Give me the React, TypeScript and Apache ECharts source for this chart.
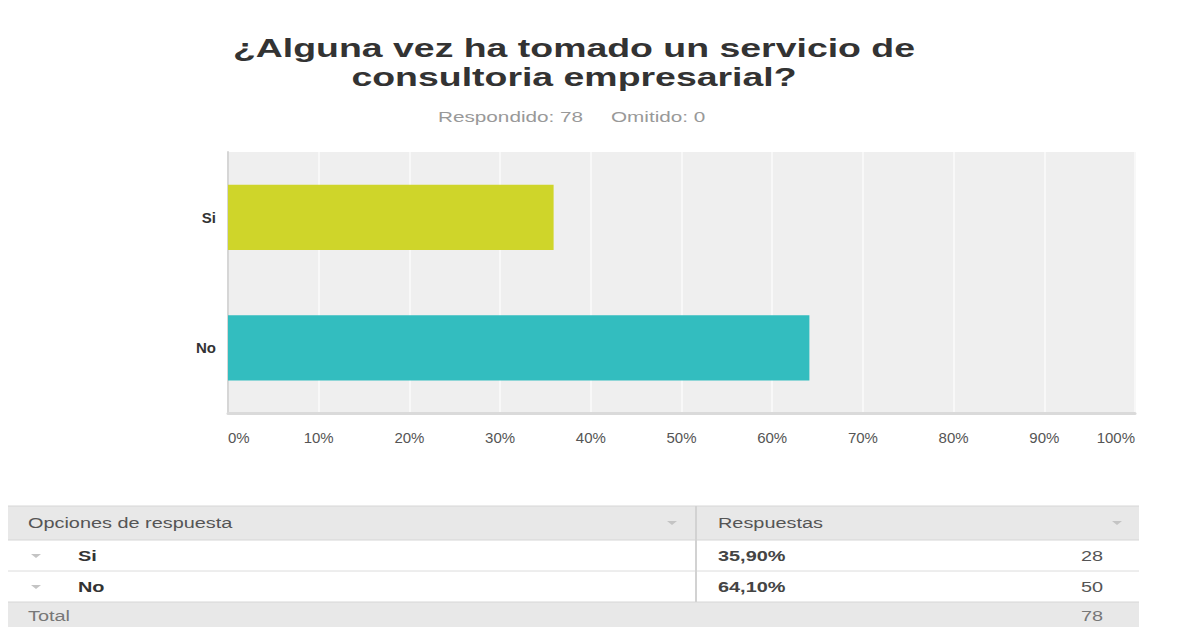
import React, { useEffect, useRef } from "react";
import * as echarts from "echarts";

const titleLines = ["¿Alguna vez ha tomado un servicio de", "consultoria empresarial?"];
const answered = 78;
const skipped = 0;
const categories = ["Si", "No"];
const percents = [35.9, 64.1];
const counts = [28, 50];
const total = 78;
const barColors = ["#cfd52a", "#33bdbf"];
const axisMin = 0;
const axisMax = 100;
const axisInterval = 10;

const FONT = "'Liberation Sans', Arial, sans-serif";
const SX = 1.42;

function fmtPct(v: number) {
  return v.toFixed(2).replace(".", ",") + "%";
}

function txt(text: string, x: number, y: number, opts: any = {}) {
  return {
    type: "text",
    x,
    y,
    scaleX: opts.scaleX ?? SX,
    style: {
      text,
      fontFamily: FONT,
      fontSize: opts.fontSize ?? 14,
      fontWeight: opts.fontWeight ?? "normal",
      fill: opts.fill ?? "#555",
      align: opts.align ?? "left",
      verticalAlign: "middle",
    },
  };
}

function tri(cx: number, cy: number) {
  return {
    type: "polygon",
    shape: { points: [[cx - 5, cy - 2], [cx + 5, cy - 2], [cx, cy + 2]] },
    style: { fill: "#c4c4c4" },
  };
}

export default function App() {
  const ref = useRef<HTMLDivElement>(null);
  useEffect(() => {
    if (!ref.current) return;
    const chart = echarts.init(ref.current, undefined, { renderer: "svg" });

    const rowYs = [556, 587];
    const tableGraphics: any[] = [
      { type: "rect", shape: { x: 8, y: 506, width: 1131, height: 34 }, style: { fill: "#e8e8e8" } },
      { type: "rect", shape: { x: 8, y: 602, width: 1131, height: 25 }, style: { fill: "#e8e8e8" } },
      { type: "line", shape: { x1: 8, y1: 506, x2: 1139, y2: 506 }, style: { stroke: "#d6d6d6", lineWidth: 1 } },
      { type: "line", shape: { x1: 8, y1: 540, x2: 1139, y2: 540 }, style: { stroke: "#d6d6d6", lineWidth: 1 } },
      { type: "line", shape: { x1: 8, y1: 571, x2: 1139, y2: 571 }, style: { stroke: "#dcdcdc", lineWidth: 1 } },
      { type: "line", shape: { x1: 8, y1: 602, x2: 1139, y2: 602 }, style: { stroke: "#d6d6d6", lineWidth: 1 } },
      { type: "line", shape: { x1: 696, y1: 506, x2: 696, y2: 602 }, style: { stroke: "#d2d2d2", lineWidth: 2 } },
      txt("Opciones de respuesta", 28, 523, { fill: "#555" }),
      tri(672, 523),
      txt("Respuestas", 718, 523, { fill: "#555" }),
      tri(1117, 523),
      txt("Total", 28, 616, { fill: "#777" }),
      txt(String(total), 1103, 616, { fill: "#777", align: "right" }),
    ];
    categories.forEach((c, i) => {
      tableGraphics.push(tri(36, rowYs[i]));
      tableGraphics.push(txt(c, 78, rowYs[i], { fontWeight: "bold", fill: "#333" }));
      tableGraphics.push(txt(fmtPct(percents[i]), 718, rowYs[i], { fontWeight: "bold", fill: "#444" }));
      tableGraphics.push(txt(String(counts[i]), 1103, rowYs[i], { fill: "#555", align: "right" }));
    });

    const option: any = {
      animation: false,
      backgroundColor: "#ffffff",
      grid: {
        left: 228,
        right: 47,
        top: 152,
        height: 261,
        show: true,
        backgroundColor: "#efefef",
        borderWidth: 0,
        containLabel: false,
      },
      xAxis: {
        type: "value",
        min: axisMin,
        max: axisMax,
        interval: axisInterval,
        axisLine: { show: true, lineStyle: { color: "#dadada", width: 3 } },
        axisTick: { show: false },
        splitLine: { show: true, lineStyle: { color: "#f8f8f8", width: 2 } },
        axisLabel: {
          formatter: "{value}%",
          color: "#555",
          fontSize: 15,
          fontFamily: FONT,
          margin: 17,
          alignMinLabel: "left",
          alignMaxLabel: "right",
        },
      },
      yAxis: {
        type: "category",
        data: categories,
        inverse: true,
        axisLine: { show: true, lineStyle: { color: "#d6d6d6", width: 2 } },
        axisTick: { show: false },
        splitLine: { show: false },
        axisLabel: {
          color: "#333",
          fontWeight: "bold",
          fontSize: 15,
          fontFamily: FONT,
          margin: 12,
        },
      },
      series: [
        {
          type: "bar",
          barWidth: "50%",
          data: percents.map((v, i) => ({ value: v, itemStyle: { color: barColors[i] } })),
        },
      ],
      graphic: [
        txt(titleLines[0], 574, 48, { fontSize: 26, fontWeight: "bold", fill: "#333", align: "center", scaleX: 1.44 }),
        txt(titleLines[1], 574, 77, { fontSize: 26, fontWeight: "bold", fill: "#333", align: "center", scaleX: 1.44 }),
        txt(`Respondido: ${answered}`, 438, 117, { fontSize: 14, fill: "#999", scaleX: 1.48 }),
        txt(`Omitido: ${skipped}`, 611, 117, { fontSize: 14, fill: "#999", scaleX: 1.48 }),
        ...tableGraphics,
      ],
    };
    chart.setOption(option);
    return () => chart.dispose();
  }, []);
  return (
    <div
      ref={ref}
      style={{ position: "fixed", left: 0, top: 0, width: 1182, height: 627, background: "#fff" }}
    />
  );
}
